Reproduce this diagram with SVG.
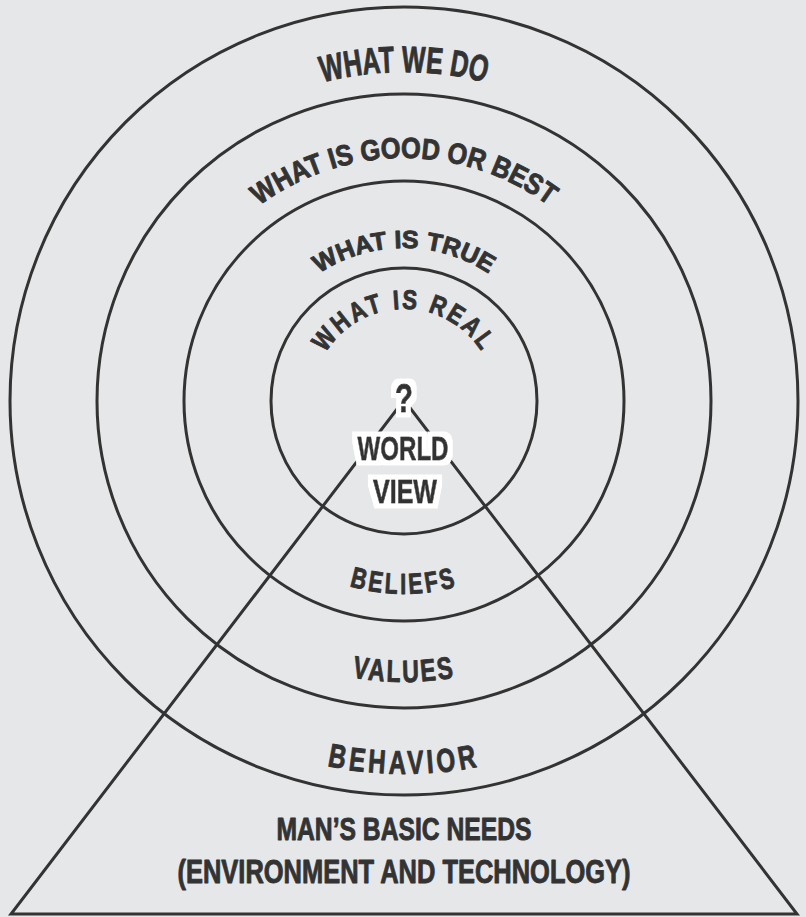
<svg xmlns="http://www.w3.org/2000/svg" xmlns:xlink="http://www.w3.org/1999/xlink" width="806" height="917" viewBox="0 0 806 917">
  <style>
    .ring { fill: none; stroke: #333; stroke-width: 3; }
    .edge { fill: none; stroke: #333; stroke-width: 3; stroke-linejoin: miter; }
    .lbl { font-family: "Liberation Sans Narrow", "Liberation Sans", Arial, sans-serif; font-weight: bold; fill: #333; stroke: #333; stroke-width: 0.9; stroke-linejoin: round; }
    .halo { filter: url(#halo); }
  </style>
  <defs>
    <filter id="halo" x="-30%" y="-40%" width="160%" height="180%">
      <feMorphology in="SourceAlpha" operator="dilate" radius="5" result="d"/>
      <feFlood flood-color="#ffffff" result="w"/>
      <feComposite in="w" in2="d" operator="in" result="wh"/>
      <feMerge>
        <feMergeNode in="wh"/>
        <feMergeNode in="SourceGraphic"/>
      </feMerge>
    </filter>
    <path id="p-do" d="M 75,401 A 329 329 0 0 1 733,401"/>
    <path id="p-good" d="M 161,401 A 243 243 0 0 1 647,401"/>
    <path id="p-true" d="M 251,401 A 153 153 0 0 1 557,401"/>
    <path id="p-real" d="M 312,401 A 92 92 0 0 1 496,401"/>
    <path id="p-beliefs" d="M 211,401 A 193 193 0 0 0 597,401"/>
    <path id="p-values" d="M 123,401 A 281 281 0 0 0 685,401"/>
    <path id="p-behavior" d="M 31,401 A 373 373 0 0 0 777,401"/>
  </defs>
  <rect width="806" height="917" fill="#e6e7e9"/>

  <g id="connectors">
    <polygon class="edge" points="404,400 11,914 797,914"/>
  </g>

  <g id="rings">
    <circle id="ring-behavior" class="ring" cx="404" cy="401" r="394"/>
    <circle id="ring-values" class="ring" cx="404" cy="401" r="307"/>
    <circle id="ring-beliefs" class="ring" cx="404" cy="401" r="220"/>
    <circle id="ring-worldview" class="ring" cx="404" cy="401" r="133"/>
  </g>

  <g id="label-what-we-do">
    <text class="lbl" font-size="37"><textPath xlink:href="#p-do" href="#p-do" startOffset="50%" text-anchor="middle" textLength="165" lengthAdjust="spacingAndGlyphs">WHAT WE DO</textPath></text>
  </g>
  <g id="label-good">
    <text class="lbl" font-size="29"><textPath xlink:href="#p-good" href="#p-good" startOffset="50%" text-anchor="middle" textLength="310" lengthAdjust="spacingAndGlyphs">WHAT IS GOOD OR BEST</textPath></text>
  </g>
  <g id="label-true">
    <text class="lbl" font-size="25"><textPath xlink:href="#p-true" href="#p-true" startOffset="50%" text-anchor="middle" textLength="180" lengthAdjust="spacingAndGlyphs">WHAT IS TRUE</textPath></text>
  </g>
  <g id="label-real">
    <text class="lbl" font-size="27" letter-spacing="3"><textPath xlink:href="#p-real" href="#p-real" startOffset="50%" text-anchor="middle" textLength="188" lengthAdjust="spacingAndGlyphs">WHAT IS REAL</textPath></text>
  </g>
  <g id="label-beliefs">
    <text class="lbl" font-size="29" letter-spacing="4"><textPath xlink:href="#p-beliefs" href="#p-beliefs" startOffset="50%" text-anchor="middle" textLength="111" lengthAdjust="spacingAndGlyphs">BELIEFS</textPath></text>
  </g>
  <g id="label-values">
    <text class="lbl" font-size="31" letter-spacing="3"><textPath xlink:href="#p-values" href="#p-values" startOffset="50%" text-anchor="middle" textLength="105" lengthAdjust="spacingAndGlyphs">VALUES</textPath></text>
  </g>
  <g id="label-behavior">
    <text class="lbl" font-size="33" letter-spacing="5"><textPath xlink:href="#p-behavior" href="#p-behavior" startOffset="50%" text-anchor="middle" textLength="155" lengthAdjust="spacingAndGlyphs">BEHAVIOR</textPath></text>
  </g>

  <g id="node-worldview">
    <text class="lbl halo" x="404" y="412" font-size="40" text-anchor="middle" textLength="18" lengthAdjust="spacingAndGlyphs">?</text>
    <text class="lbl halo" x="403" y="460" font-size="34" text-anchor="middle" textLength="91" lengthAdjust="spacingAndGlyphs">WORLD</text>
    <text class="lbl halo" x="405" y="503" font-size="33" text-anchor="middle" textLength="64" lengthAdjust="spacingAndGlyphs">VIEW</text>
  </g>

  <g id="node-basic-needs">
    <text class="lbl" x="404" y="840" font-size="32" text-anchor="middle" textLength="255" lengthAdjust="spacingAndGlyphs">MAN’S BASIC NEEDS</text>
    <text class="lbl" x="404" y="883" font-size="33" text-anchor="middle" textLength="453" lengthAdjust="spacingAndGlyphs">(ENVIRONMENT AND TECHNOLOGY)</text>
  </g>
</svg>
